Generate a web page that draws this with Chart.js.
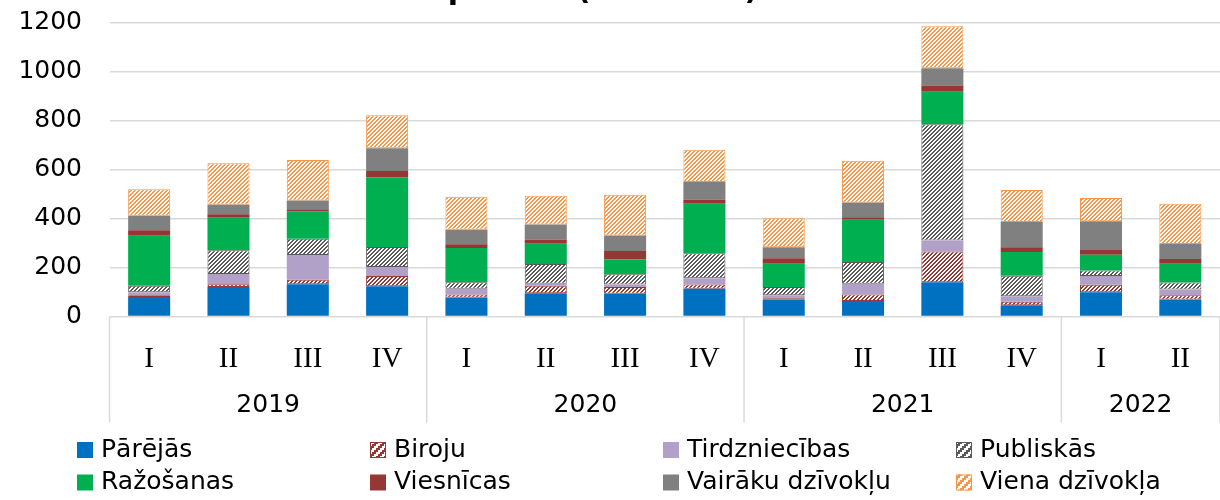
<!DOCTYPE html>
<html>
<head>
<meta charset="utf-8">
<script src="https://cdn.jsdelivr.net/npm/chart.js@4.4.1/dist/chart.umd.min.js"></script>
<style>
  html, body { margin: 0; padding: 0; background: #fff; }
  #wrap { width: 1220px; height: 500px; position: relative; }
</style>
</head>
<body>
<div id="wrap"><canvas id="chart" width="1220" height="500"></canvas></div>
<script>
// quarters and years on the two-level x axis
const quarters = ['I', 'II', 'III', 'IV', 'I', 'II', 'III', 'IV', 'I', 'II', 'III', 'IV', 'I', 'II'];
const years = ['2019', '2020', '2021', '2022'];
const quartersPerYear = [4, 4, 4, 2];

const titleText = 'platība (tūkst. m²)';

const seriesNames = ['Pārējās', 'Biroju', 'Tirdzniecības', 'Publiskās',
                     'Ražošanas', 'Viesnīcas', 'Vairāku dzīvokļu', 'Viena dzīvokļa'];

// values
const parejas      = [80, 120, 132, 124,  78,  95,  93, 113,  68,  63, 140,  46,  99,  69];
const biroju       = [ 7,  12,  18,  41,  12,  31,  27,  18,   7,  27, 125,  14,  31,  18];
const tirdznieciba = [12,  42, 101,  37,  23,   8,  11,  25,  12,  44,  45,  23,  35,  23];
const publiskas    = [27,  97,  67,  82,  27,  80,  42, 102,  33,  89, 475,  83,  23,  29];
const razosanas    = [204, 132, 112, 285, 140, 83,  60, 203,  95, 172, 133,  97,  64,  76];
const viesnicas    = [22,  15,   5,  25,  15,  16,  35,  16,  23,  10,  25,  20,  20,  20];
const vairaku      = [59,  38,  39,  93,  59,  63,  63,  72,  45,  61,  71, 103, 117,  61];
const viena        = [109, 170, 165, 135, 135, 117, 166, 132, 118, 170, 172, 131, 95, 165];

const yMax = 1200;
const yStep = 200;

const colors = ['#0070C0', '#953735', '#B1A0C7', '#595959', '#00B050', '#953735', '#808080', '#F79646'];
const hatched = [false, true, false, true, false, false, false, true];

// excel style "wide upward diagonal" fill
function hatch(color, cell) {
    let c = document.createElement('canvas');
    c.width = c.height = 4 * cell;
    let g = c.getContext('2d');
    g.fillStyle = '#fff';
    g.fillRect(0, 0, c.width, c.height);
    g.fillStyle = color;
    for (let y = 0; y < 4; y++) {
        for (let x = 0; x < 4; x++) {
            if ((x + y) % 4 < 2) g.fillRect(x * cell, y * cell, cell, cell);
        }
    }
    return g.createPattern(c, 'repeat');
}

const allValues = [parejas, biroju, tirdznieciba, publiskas, razosanas, viesnicas, vairaku, viena];

let datasets = allValues.map(function (vals, i) {
    return {
        label: seriesNames[i],
        data: vals,
        backgroundColor: hatched[i] ? hatch(colors[i], 1) : colors[i],
        legendFill: hatched[i] ? hatch(colors[i], 2) : colors[i],
        borderColor: colors[i],
        borderWidth: hatched[i] ? 1 : 0,
        borderSkipped: false,
        categoryPercentage: 0.53,
        barPercentage: 1
    };
});

const sepColor = '#d9d9d9';

const extras = {
    id: 'extras',
    afterDraw(chart) {
        let ctx = chart.ctx;
        let xs = chart.scales.x;
        let area = chart.chartArea;
        let half = (xs.getPixelForValue(1) - xs.getPixelForValue(0)) / 2;
        ctx.save();

        // title, only its lower edge shows
        ctx.font = 'bold 30px "DejaVu Sans"';
        ctx.fillStyle = '#000';
        ctx.textAlign = 'center';
        ctx.textBaseline = 'alphabetic';
        ctx.fillText(titleText, 603, -1);

        // year group separators and labels
        ctx.strokeStyle = sepColor;
        ctx.lineWidth = 1.5;
        let idx = 0;
        ctx.font = '25px "DejaVu Sans"';
        ctx.textBaseline = 'middle';
        for (let k = 0; k <= years.length; k++) {
            let x = xs.getPixelForValue(idx) - half;
            ctx.beginPath();
            ctx.moveTo(x, area.bottom);
            ctx.lineTo(x, xs.bottom);
            ctx.stroke();
            if (k < years.length) {
                let x2 = xs.getPixelForValue(idx + quartersPerYear[k] - 1) + half;
                ctx.fillText(years[k], (x + x2) / 2, 405);
                idx += quartersPerYear[k];
            }
        }

        // legend, 4 columns
        ctx.textAlign = 'left';
        chart.data.datasets.forEach(function (ds, i) {
            let lx = 77 + (i % 4) * 293;
            let ly = 450 + Math.floor(i / 4) * 32.5;
            ctx.fillStyle = ds.legendFill;
            ctx.fillRect(lx, ly - 8, 16, 16);
            if (ds.borderWidth) {
                ctx.strokeStyle = ds.borderColor;
                ctx.lineWidth = 1;
                ctx.strokeRect(lx + 0.5, ly - 7.5, 15, 15);
            }
            ctx.fillStyle = '#000';
            ctx.fillText(ds.label, lx + 24, ly);
        });
        ctx.restore();
    }
};

new Chart(document.getElementById('chart'), {
    type: 'bar',
    data: { labels: quarters, datasets: datasets },
    options: {
        responsive: false,
        animation: false,
        layout: { padding: { top: 22.7, bottom: 77.5, left: 0, right: 0 } },
        plugins: { legend: { display: false }, tooltip: { enabled: false } },
        scales: {
            x: {
                stacked: true,
                grid: { display: false },
                border: { display: false },
                ticks: {
                    color: '#000',
                    font: { family: '"Liberation Serif"', size: 29 },
                    padding: 17,
                    maxRotation: 0,
                    autoSkip: false
                },
                afterFit(scale) { scale.height = 106; }
            },
            y: {
                stacked: true,
                min: 0,
                max: yMax,
                grid: { color: sepColor, lineWidth: 1.5, drawTicks: false },
                border: { display: false },
                ticks: {
                    stepSize: yStep,
                    color: '#000',
                    font: { family: '"DejaVu Sans"', size: 25 },
                    padding: 27.5,
                    callback: function (v) { return String(v); }
                },
                afterFit(scale) {
                    scale.width = 109.5;
                    // tick padding would otherwise push the plot down
                    scale.paddingTop = 0;
                    scale.paddingBottom = 0;
                }
            }
        }
    },
    plugins: [extras]
});
</script>
</body>
</html>
